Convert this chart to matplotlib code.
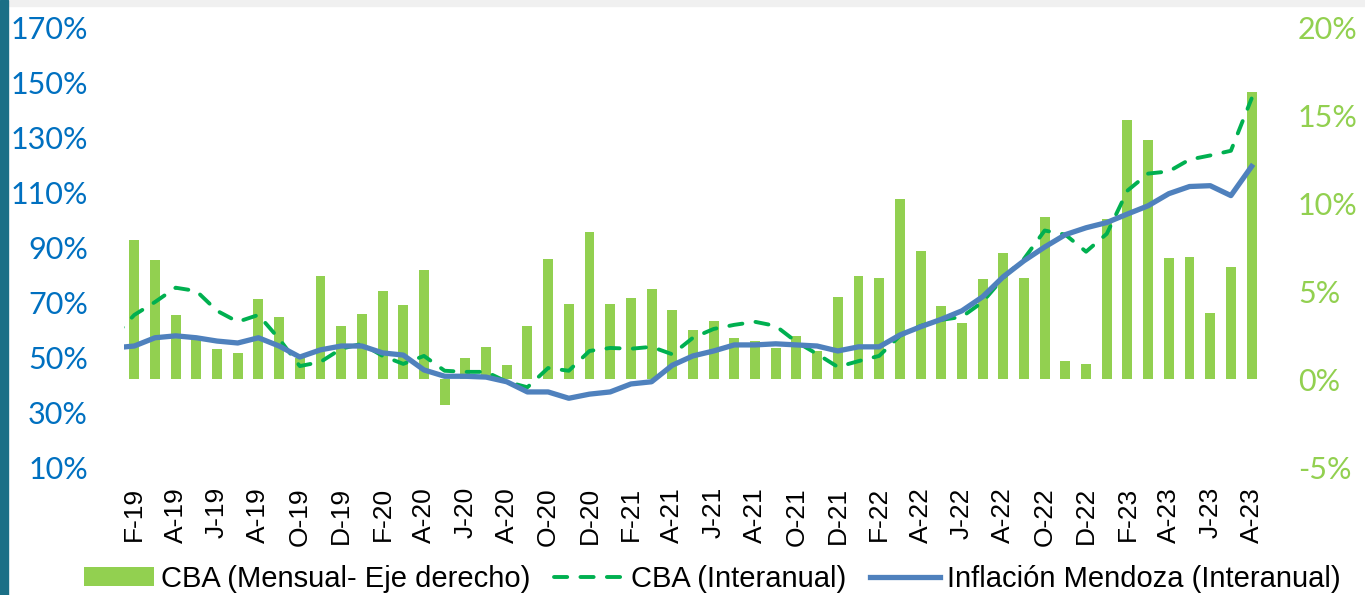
import numpy as np
import matplotlib.pyplot as plt
from matplotlib.patches import Rectangle

# ticks every two months, Feb-19 .. Aug-23
tick_labels = ["F-19", "A-19", "J-19", "A-19", "O-19", "D-19",
               "F-20", "A-20", "J-20", "A-20", "O-20", "D-20",
               "F-21", "A-21", "J-21", "A-21", "O-21", "D-21",
               "F-22", "A-22", "J-22", "A-22", "O-22", "D-22",
               "F-23", "A-23", "J-23", "A-23"]

# CBA monthly change (right axis), Feb-19 .. Aug-23
cba_mensual = [7.9, 6.76, 3.64, 2.3, 1.7, 1.48, 4.55, 3.52, 1.2, 5.85,
               3.0, 3.7, 5.0, 4.2, 6.2, -1.48, 1.2, 1.8, 0.8, 3.0,
               6.8, 4.26, 8.35, 4.26, 4.6, 5.1, 3.9, 2.8, 3.3, 2.33,
               2.16, 1.76, 2.44, 1.6, 4.66, 5.85, 5.74, 10.2, 7.27, 4.15,
               3.18, 5.68, 7.16, 5.74, 9.2, 1.02, 0.85, 9.09, 14.7, 13.6,
               6.88, 6.93, 3.75, 6.36, 16.3]

# year-on-year series (left axis), Jan-19 .. Aug-23
cba_interanual = [57.3,
                  65.3, 70, 75.2, 74, 66.8, 62.8, 65.3, 56.6, 46.7, 48.2,
                  53, 54.8, 50.4, 47.5, 50.4, 45, 44.6, 44.6, 41, 39,
                  46, 45, 52.2, 53.3, 53, 53.7, 51, 57, 60.2, 61.7,
                  62.8, 61.3, 55.5, 51.1, 46.4, 48.5, 50.4, 57.7, 61.3, 63.5,
                  64.6, 70, 78.8, 85.7, 96, 94.5, 88.3, 94.8, 110.5, 116.7,
                  117.5, 121.8, 123.3, 125, 144]

inflacion = [53.3,
             54.0, 57, 57.7, 57, 55.8, 55.1, 57, 54, 50, 52.6,
             54, 54, 51.5, 50.7, 45.3, 43, 43, 42.7, 41, 37.3,
             37.3, 35, 36.5, 37.3, 40.2, 41, 47, 50.4, 52.2, 54.4,
             54.4, 54.8, 54.4, 54, 52.2, 53.7, 53.7, 58, 61, 63.7,
             66.8, 71.9, 79.2, 85, 90, 94.5, 97, 98.9, 102, 105,
             109.4, 112, 112.3, 108.7, 119.3]

x_bars = np.arange(len(cba_mensual))
x_lines = np.arange(len(inflacion)) - 1

fig = plt.figure(figsize=(13.65, 5.95), dpi=100)
fig.patches.append(Rectangle((0, 0.99), 1, 0.01, transform=fig.transFigure,
                             color="#f0f0f0", zorder=0))
fig.patches.append(Rectangle((0, 0), 0.006, 1, transform=fig.transFigure,
                             color="#1b6f86", zorder=1))

ax = fig.add_axes([0.0908, 0.2151, 0.8337, 0.7395])
ax2 = ax.twinx()
ax.set_zorder(ax2.get_zorder() + 1)
ax.patch.set_visible(False)

bars = ax2.bar(x_bars, cba_mensual, width=0.48, color="#92D050",
               label="CBA (Mensual- Eje derecho)")
l1, = ax.plot(x_lines, cba_interanual, color="#00B050", lw=2.8,
              dashes=(3.4, 3.4), dash_capstyle="round",
              label="CBA (Interanual)")
l2, = ax.plot(x_lines, inflacion, color="#4F81BD", lw=3.8,
              solid_joinstyle="round", label="Inflación Mendoza (Interanual)")

ax.set_xlim(-0.5, len(cba_mensual) - 0.5)
ax.set_ylim(10, 170)
ax.set_yticks(np.arange(10, 171, 20))
ax.set_yticklabels([f"{v}%" for v in range(10, 171, 20)])
ax2.set_ylim(-5, 20)
ax2.set_yticks(np.arange(-5, 21, 5))
ax2.set_yticklabels([f"{v}%" for v in range(-5, 21, 5)])

ax.set_xticks(np.arange(0, len(cba_mensual), 2))
ax.set_xticklabels(tick_labels, rotation=90, fontsize=19,
                   family="Liberation Sans")

for a in (ax, ax2):
    for s in a.spines.values():
        s.set_visible(False)
ax.tick_params(axis="y", length=0, pad=26, labelcolor="#0070C0", labelsize=22)
ax.tick_params(axis="x", length=0, pad=14.5)
ax2.tick_params(axis="y", length=0, pad=26, labelcolor="#92D050", labelsize=22)
for t in ax.get_yticklabels() + ax2.get_yticklabels():
    t.set_family("Lato")

fig.legend(handles=[bars, l1, l2], loc="center", bbox_to_anchor=(0.522, 0.027),
           ncol=3, frameon=False, prop={"family": "Liberation Sans", "size": 21},
           handlelength=2.4, handleheight=0.6, handletextpad=0.25,
           columnspacing=0.8, borderpad=0)

fig.savefig("out.png", dpi=100)
